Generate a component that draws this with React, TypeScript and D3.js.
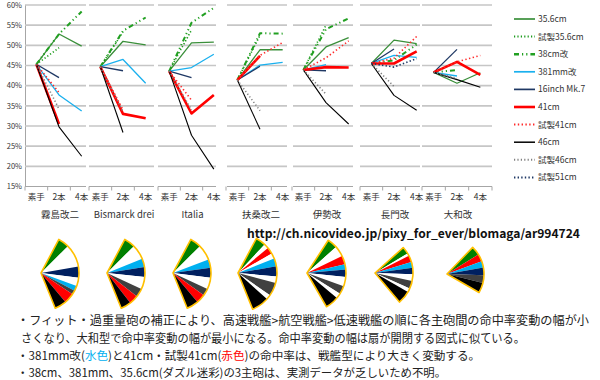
import React from "react";
import * as d3 from "d3";

const panelNames = ["霧島改二", "Bismarck drei", "Italia", "扶桑改二", "伊勢改", "長門改", "大和改"];
const categories = ["素手", "2本", "4本"];
const yTicks = [15, 20, 25, 30, 35, 40, 45, 50, 55, 60];

type V = (number | null)[] | null;
// per panel: [素手, 2本, 4本] in %
const s356: V[] = [[45.3, 52.8, 49.8], [44.7, 51.0, 50.1], [43.6, 50.6, 50.8], [41.4, 48.9, 48.9], [43.9, 49.6, 51.9], [45.5, 51.3, 50.4], [43.3, 40.6, 43.2]];
const s356p: V[] = [[45.3, 49.4, null], [44.7, 53.3, null], [43.6, 53.8, null], [41.4, 52.5, null], [43.9, 55.0, null], null, null];
const s38: V[] = [[45.3, 52.8, 58.4], [44.7, 53.6, 56.9], [43.6, 55.6, 59.3], [41.4, 53.0, 52.9], [43.9, 54.0, 56.7], [45.5, 46.3, 50.2], [43.3, 43.9, null]];
const s381: V[] = [[45.3, 37.7, 33.7], [44.7, 46.5, 40.6], [43.6, 44.5, 47.8], [41.4, 45.1, 45.8], [43.9, 45.2, null], [45.5, 47.5, 47.0], [43.3, 42.4, null]];
const s16in: V[] = [[45.3, 42.0, null], [44.7, 43.7, null], [43.6, 42.0, null], [41.4, 44.8, null], [43.9, 43.7, null], [45.5, 49.1, null], [43.3, 49.0, null]];
const s41: V[] = [[45.3, 30.5, null], [44.7, 33.0, 31.9], [43.6, 33.1, 37.7], [41.4, 47.4, null], [43.9, 44.6, 44.5], [45.5, 45.5, 48.5], [43.3, 45.9, 42.7]];
const s41p: V[] = [[45.3, 38.3, null], [44.7, 34.0, null], [43.6, 36.4, null], [41.4, 47.5, 50.7], [43.9, 46.9, 51.1], [45.5, 46.8, 52.2], [43.3, 45.9, 47.5]];
const s46: V[] = [[45.3, 29.8, 22.5], [44.7, 28.4, null], [43.6, 27.7, 19.3], [41.4, 29.2, null], [43.9, 35.8, 30.5], [45.5, 37.6, 33.9], [43.3, 41.5, 39.6]];
const s46p: V[] = [[45.3, 34.2, null], [44.7, 33.5, null], [43.6, 34.0, null], [41.4, 33.8, null], [43.9, 37.9, null], [45.5, 39.8, null], [43.3, 41.8, null]];
const s51p: V[] = [null, null, null, null, null, [45.5, 44.6, 46.7], null];

const seriesNames = ["35.6cm", "試製35.6cm", "38cm改", "381mm改", "16inch Mk.7", "41cm", "試製41cm", "46cm", "試製46cm", "試製51cm"];
const seriesData = [s356, s356p, s38, s381, s16in, s41, s41p, s46, s46p, s51p];
const seriesStyle = [
  { c: "#3a8f3a", w: 1.3, d: "" },
  { c: "#1a9a1a", w: 1.6, d: "1.2,2.2" },
  { c: "#22a022", w: 2, d: "5,3,1.2,3,1.2,3" },
  { c: "#1ab0ee", w: 1.3, d: "" },
  { c: "#1f3864", w: 1.3, d: "" },
  { c: "#ff0000", w: 2.6, d: "" },
  { c: "#ff2a2a", w: 1.6, d: "1.4,2.4" },
  { c: "#000000", w: 1.1, d: "" },
  { c: "#808080", w: 1.6, d: "1.2,2.2" },
  { c: "#1f3864", w: 1.6, d: "1.4,2.2" },
];

// fans: wedge colours and angle boundaries (degrees, 0 = right, positive = down)
const fanColors = [
  ["#008000", "#ffffff", "#002060", "#ffffff", "#00b0f0", "#404040", "#ff0000", "#000000"],
  ["#008000", "#ffffff", "#00b0f0", "#002060", "#ffffff", "#404040", "#ff0000", "#000000"],
  ["#008000", "#ffffff", "#00b0f0", "#002060", "#ffffff", "#404040", "#ff0000", "#000000"],
  ["#008000", "#ffffff", "#ff0000", "#ffffff", "#00b0f0", "#002060", "#ffffff", "#404040", "#ffffff", "#000000"],
  ["#008000", "#ffffff", "#ff0000", "#00b0f0", "#002060", "#ffffff", "#404040", "#ffffff", "#000000"],
  ["#008000", "#ffffff", "#ff0000", "#00b0f0", "#002060", "#ffffff", "#404040", "#ffffff", "#000000"],
  ["#008000", "#ff0000", "#00b0f0", "#002060", "#404040", "#000000"],
];
const fanAngles = [
  [-62, -45, -10, 7, 20, 28, 34, 50, 68],
  [-62, -45, -22, -9, 6, 25, 38, 52, 68],
  [-62, -45, -21, -8, 7, 25, 36, 50, 68],
  [-62, -47, -40, -30, -22, -10, 5, 15, 35, 42, 68],
  [-57, -42, -26, -13, -5, 6, 20, 32, 40, 60],
  [-42, -31, -27, -17, -8, 2, 12, 24, 30, 50],
  [-46, -32, -20, -10, 2, 14, 30],
];

const panelRanges = [[25, 93], [89, 157], [158, 225], [226, 294], [292, 360], [360, 428], [422, 492]];
const gridRanges = [[25, 86], [89, 154], [158, 216], [227, 287], [293, 353], [360, 420], [422, 492]];
const fanApex = [[41, 273], [107, 273], [173, 273], [238, 273], [307, 273], [375, 273], [447, 274]];
const fanRadius = [38, 38, 38, 39, 39, 38, 37];

const JP = "'Noto Sans CJK JP', 'Noto Sans', sans-serif";

export default function App() {
  const y = d3.scaleLinear().domain([15, 60]).range([186.5, 5]);
  const rad = (a: number) => (a * Math.PI) / 180;

  return (
    <svg width={600} height={380} style={{ position: "absolute", left: 0, top: 0, background: "#fff" }}>
      <rect width={600} height={380} fill="#fff" />
      {/* y axis labels */}
      {yTicks.map((t) => (
        <text key={t} x={22} y={y(t) + 2.8} fontSize={7.5} textAnchor="end" fill="#333" fontFamily={JP}>
          {t}%
        </text>
      ))}
      <line x1={25.5} x2={25.5} y1={5} y2={186.5} stroke="#a6a6a6" strokeWidth={1} />

      {panelNames.map((name, p) => {
        const x = d3.scaleBand().domain(categories).range(panelRanges[p] as [number, number]);
        const cx = (c: string) => (x(c) as number) + x.bandwidth() / 2;
        const [g0, g1] = gridRanges[p];
        const bounds = [0, 1, 2, 3].map((i) => panelRanges[p][0] + i * x.bandwidth()).filter((b) => b >= g0 - 1 && b <= g1 + 1);
        return (
          <g key={name}>
            {yTicks.map((t) => (
              <line key={t} x1={g0} x2={g1} y1={y(t)} y2={y(t)} stroke={t === 15 ? "#a6a6a6" : "#c6c6c6"} strokeWidth={t === 15 ? 1 : 1.6} />
            ))}
            {bounds.map((b, i) => (
              <line key={i} x1={b} x2={b} y1={186.5} y2={190.5} stroke="#a6a6a6" />
            ))}
            {categories.map((c) => (
              <text key={c} x={cx(c)} y={200} fontSize={8.5} textAnchor="middle" fill="#333" fontFamily={JP}>
                {c}
              </text>
            ))}
            <text x={(panelRanges[p][0] + panelRanges[p][1]) / 2 + 1} y={218} fontSize={9.5} textAnchor="middle" fill="#333" fontFamily={JP}>
              {name}
            </text>
            {seriesData.map((sd, si) => {
              const vals = sd[p];
              if (!vals) return null;
              const line = d3
                .line<number | null>()
                .defined((d) => d != null)
                .x((_, i) => cx(categories[i]))
                .y((d) => y(d as number));
              const st = seriesStyle[si];
              return (
                <path key={si} d={line(vals) || ""} fill="none" stroke={st.c} strokeWidth={st.w} strokeDasharray={st.d || undefined} strokeLinejoin="round" />
              );
            })}
          </g>
        );
      })}

      {/* legend */}
      {seriesNames.map((n, i) => {
        const st = seriesStyle[i];
        const ly = 19 + i * 17.6;
        return (
          <g key={n}>
            <line x1={514} x2={535} y1={ly} y2={ly} stroke={st.c} strokeWidth={Math.min(st.w + 0.4, 2.6)} strokeDasharray={st.d || undefined} />
            <text x={538} y={ly + 3} fontSize={8.5} fill="#333" fontFamily={JP}>
              {n}
            </text>
          </g>
        );
      })}

      <text x={247} y={238} fontSize={12} fontWeight="bold" fill="#111" fontFamily={JP} textLength={333} lengthAdjust="spacingAndGlyphs">
        http://ch.nicovideo.jp/pixy_for_ever/blomaga/ar994724
      </text>

      {/* fans */}
      {fanColors.map((cols, f) => {
        const [ax, ay] = fanApex[f];
        const r = fanRadius[f];
        const angs = fanAngles[f];
        const arc = d3.arc<any>();
        const toD3 = (a: number) => rad(a + 90);
        const outline = arc({ innerRadius: 0, outerRadius: r, startAngle: toD3(angs[0]), endAngle: toD3(angs[angs.length - 1]) });
        return (
          <g key={f} transform={`translate(${ax},${ay})`}>
            {cols.map((c, i) => (
              <path key={i} d={arc({ innerRadius: 0, outerRadius: r, startAngle: toD3(angs[i]), endAngle: toD3(angs[i + 1]) }) || ""} fill={c} />
            ))}
            <path d={outline || ""} fill="none" stroke="#ffc000" strokeWidth={1.6} strokeLinejoin="round" />
          </g>
        );
      })}

      {/* notes */}
      <g fontFamily={JP} fill="#222">
        <text x={17} y={325} fontSize={12} textLength={572} lengthAdjust="spacingAndGlyphs">・フィット・過重量砲の補正により、高速戦艦&gt;航空戦艦&gt;低速戦艦の順に各主砲間の命中率変動の幅が小</text>
        <text x={21} y={343} fontSize={12} textLength={504} lengthAdjust="spacingAndGlyphs">さくなり、大和型で命中率変動の幅が最小になる。命中率変動の幅は扇が開閉する図式に似ている。</text>
        <text x={17} y={360} fontSize={11.6}>
          ・381mm改(<tspan fill="#00b0f0">水色</tspan>)と41cm・試製41cm(<tspan fill="#ff0000">赤色</tspan>)の命中率は、戦艦型により大きく変動する。
        </text>
        <text x={17} y={377} fontSize={11.4}>・38cm、381mm、35.6cm(ダズル迷彩)の3主砲は、実測データが乏しいため不明。</text>
      </g>
    </svg>
  );
}
